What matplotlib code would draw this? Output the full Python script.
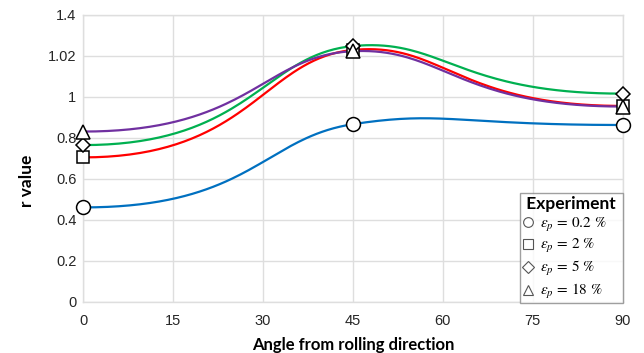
import numpy as np
import matplotlib
matplotlib.use("Agg")
import matplotlib.pyplot as plt
from matplotlib.lines import Line2D

# ---- data ----
angles = [0, 45, 90]
r_02 = [0.46, 0.866, 0.862]
r_2 = [0.704, 1.228, 0.955]
r_5 = [0.764, 1.247, 1.015]
r_18 = [0.83, 1.222, 0.952]
series_labels = [r'$\varepsilon_p\,=\,0.2\ \%$', r'$\varepsilon_p\,=\,2\ \%$',
                 r'$\varepsilon_p\,=\,5\ \%$', r'$\varepsilon_p\,=\,18\ \%$']
ytick_vals = [0, 0.2, 0.4, 0.6, 0.8, 1.0, 1.2, 1.4]
ytick_labels = ['0', '0.2', '0.4', '0.6', '0.8', '1', '1.02', '1.4']
xtick_vals = [0, 15, 30, 45, 60, 75, 90]

colors = ['#0070C0', '#FF0000', '#00B050', '#7030A0']
markers = ['o', 's', 'D', '^']
msizes = [10, 9, 7.5, 9.5]
leg_msizes = [7, 6.5, 6, 7.5]

plt.rcParams['mathtext.fontset'] = 'stix'


def smooth(xs, ys, end_frac=0.62, n=80):
    """Smoothed line through the points: cubic Bezier segments, interior
    tangents from neighbours, flat handles at both ends."""
    P = np.column_stack([xs, ys]).astype(float)
    out = []
    last = len(P) - 2
    for i in range(len(P) - 1):
        p1, p2 = P[i], P[i + 1]
        dx = p2[0] - p1[0]
        if i == 0:
            c1 = p1 + np.array([end_frac * dx, 0.0])
        else:
            c1 = p1 + (p2 - P[i - 1]) / 6.0
        if i == last:
            c2 = p2 - np.array([end_frac * dx, 0.0])
        else:
            c2 = p2 - (P[i + 2] - p1) / 6.0
        t = np.linspace(0, 1, n)[:, None]
        seg = ((1 - t) ** 3) * p1 + 3 * ((1 - t) ** 2) * t * c1 + 3 * (1 - t) * t ** 2 * c2 + t ** 3 * p2
        out.append(seg if i == 0 else seg[1:])
    seg = np.vstack(out)
    return seg[:, 0], seg[:, 1]


fig = plt.figure(figsize=(6.44, 3.53), dpi=100)
ax = fig.add_axes([83.3 / 644, 1 - 301.7 / 353, (622.7 - 83.3) / 644, (301.7 - 14.7) / 353])

all_series = [r_02, r_2, r_5, r_18]
for ys, c in zip(all_series, colors):
    sx, sy = smooth(angles, ys)
    ax.plot(sx, sy, color=c, lw=1.6, zorder=3, solid_capstyle='round')
for ys, m, ms in zip(all_series, markers, msizes):
    ax.plot(angles, ys, linestyle='none', marker=m, ms=ms, mfc='white',
            mec='black', mew=1.1, zorder=4, clip_on=False)

ax.set_xlim(0, 90)
ax.set_ylim(0, 1.4)
ax.set_xticks(xtick_vals)
ax.set_xticklabels([str(v) for v in xtick_vals], fontsize=10.5, family='Liberation Sans', color='#262626')
ax.set_yticks(ytick_vals)
ax.set_yticklabels(ytick_labels, fontsize=10.5, family='Liberation Sans', color='#262626')
ax.tick_params(axis='x', length=0, pad=9)
ax.tick_params(axis='y', length=0, pad=5)
ax.grid(True, color='#dedede', lw=1)
ax.set_axisbelow(True)
for s in ax.spines.values():
    s.set_color('#dedede')
    s.set_linewidth(1)

ax.set_xlabel('Angle from rolling direction', fontsize=12, fontweight='bold',
              family='Lato', labelpad=6)
ax.set_ylabel('r value', fontsize=12.5, fontweight='bold', family='Lato')
ax.yaxis.set_label_coords((35 - 83.3) / 539.4, (301.7 - 181) / 287.0)

handles = [Line2D([], [], linestyle='none', marker=m, ms=ms, mfc='white',
                  mec='#555555', mew=0.8) for m, ms in zip(markers, leg_msizes)]
leg = ax.legend(handles, series_labels, title=' Experiment ', loc='lower right',
                bbox_to_anchor=(1.0, -0.006), borderaxespad=0, frameon=True,
                fancybox=False, fontsize=11, alignment='center',
                title_fontproperties={'family': 'Lato', 'weight': 'bold', 'size': 12.5},
                handlelength=0.7, handletextpad=0.45, labelspacing=0.25, borderpad=0.15)
leg._legend_box.align = 'left'
leg.get_frame().set_edgecolor('#888888')
leg.get_frame().set_linewidth(1)
leg.set_zorder(6)

fig.savefig('out.png', dpi=100)
